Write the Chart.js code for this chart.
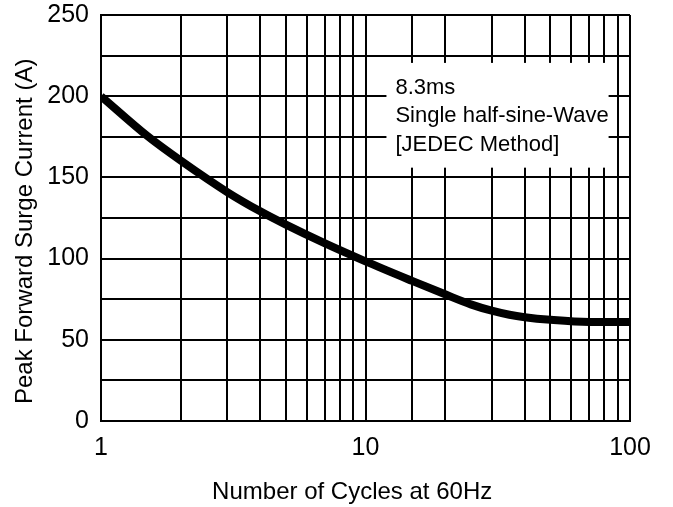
<!DOCTYPE html>
<html>
<head>
<meta charset="utf-8">
<script src="https://cdn.jsdelivr.net/npm/chart.js@4/dist/chart.umd.min.js"></script>
<style>
  html, body { margin: 0; padding: 0; background: #fff; }
  #wrap { width: 673px; height: 507px; }
</style>
</head>
<body>
<div id="wrap"><canvas id="myChart" width="673" height="507"></canvas></div>
<script>
// cycles (log axis) and surge current
const cycles = [1, 1.5, 2, 3, 4, 5, 7, 10, 15, 20, 25, 30, 35, 40, 50, 70, 100];
const surgeCurrent = [200, 175.4, 160.4, 141, 129.1, 120.9, 109.5, 98.3, 86.3, 78, 71.8, 67.9, 65.4, 63.9, 62.3, 61, 61];
const xTickLabels = [1, 10, 100];
const yTickLabels = [0, 50, 100, 150, 200, 250];
const noteLines = ['8.3ms', 'Single half-sine-Wave', '[JEDEC Method]'];

const textFont = 'Liberation Sans, Arial, sans-serif';

let points = [];
for (let i = 0; i < cycles.length; i++) {
  points.push({ x: cycles[i], y: surgeCurrent[i] });
}

// white box with the test conditions, sits over the grid
const notePlugin = {
  id: 'note',
  beforeDatasetsDraw(chart) {
    const ctx = chart.ctx;
    const xs = chart.scales.x;
    const ys = chart.scales.y;
    const left = xs.getPixelForValue(12);
    const right = xs.getPixelForValue(83);
    const top = ys.getPixelForValue(220.5);
    const bottom = ys.getPixelForValue(156);
    ctx.save();
    ctx.fillStyle = '#fff';
    ctx.fillRect(left, top, right - left, bottom - top);
    ctx.fillStyle = '#000';
    ctx.font = '22px ' + textFont;
    ctx.textBaseline = 'alphabetic';
    for (let i = 0; i < noteLines.length; i++) {
      ctx.fillText(noteLines[i], left + 9, top + 31 + i * 28.5);
    }
    ctx.restore();
  }
};

const ctx = document.getElementById('myChart').getContext('2d');
const chart = new Chart(ctx, {
  type: 'line',
  data: {
    datasets: [{
      data: points,
      borderColor: '#000',
      borderWidth: 8,
      pointRadius: 0,
      fill: false,
      cubicInterpolationMode: 'monotone'
    }]
  },
  options: {
    responsive: false,
    animation: false,
    layout: { padding: { top: 0, right: 43, left: 0, bottom: 0 } },
    plugins: { legend: { display: false }, tooltip: { enabled: false } },
    scales: {
      x: {
        type: 'logarithmic',
        min: 1,
        max: 100,
        grid: { color: '#000', lineWidth: 2, drawTicks: false },
        border: { color: '#000', width: 2 },
        ticks: {
          color: '#000',
          autoSkip: false,
          maxRotation: 0,
          padding: 12,
          font: { family: textFont, size: 25 },
          callback: function (value) {
            return xTickLabels.indexOf(value) !== -1 ? String(value) : '';
          }
        },
        title: {
          display: true,
          text: 'Number of Cycles at 60Hz    ',
          color: '#000',
          font: { family: textFont, size: 24 },
          padding: { top: 0, bottom: 0 }
        },
        afterFit: function (scale) {
          scale.height = 86;
          scale.paddingLeft = 0;
          scale.paddingRight = 0;
        }
      },
      y: {
        min: 0,
        max: 250,
        grid: { color: '#000', lineWidth: 2, drawTicks: false },
        border: { color: '#000', width: 2 },
        ticks: {
          stepSize: 25,
          color: '#000',
          padding: 12,
          font: { family: textFont, size: 25 },
          callback: function (value) {
            return yTickLabels.indexOf(value) !== -1 ? String(value) : '';
          }
        },
        title: {
          display: true,
          text: 'Peak Forward Surge Current (A)    ',
          color: '#000',
          font: { family: textFont, size: 24 },
          padding: { top: 11, bottom: 0 }
        },
        afterFit: function (scale) {
          scale.width = 101;
          scale.paddingTop = 15;
          scale.paddingBottom = 0;
        }
      }
    }
  },
  plugins: [notePlugin]
});
</script>
</body>
</html>
